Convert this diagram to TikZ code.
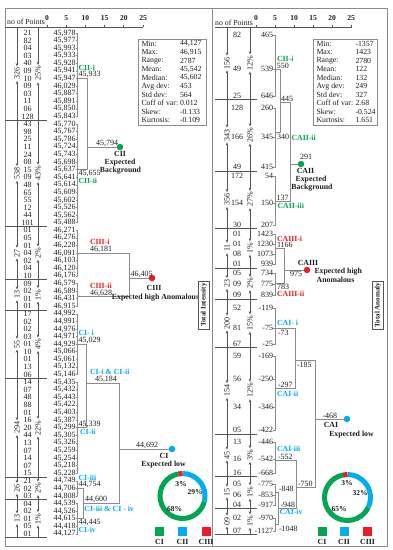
\documentclass[tikz,border=0pt]{standalone}
\usepackage{fontspec}
\setmainfont{Liberation Serif}
\usetikzlibrary{arrows.meta}
\definecolor{cgreen}{RGB}{0,166,81}
\definecolor{cblue}{RGB}{0,174,239}
\definecolor{cred}{RGB}{237,28,36}
\definecolor{lineg}{RGB}{140,140,140}
\definecolor{darkg}{RGB}{85,85,85}
\definecolor{txtc}{RGB}{30,30,30}
\begin{document}
\begin{tikzpicture}[x=1pt,y=-1pt,
  declare function={ry(\i)=33+7.59*\i;},
  every node/.style={inner sep=0pt,outer sep=0pt,text=txtc},
  tf/.style={font=\fontsize{8}{9}\selectfont},
  tfs/.style={font=\fontsize{7.8}{9}\selectfont},
  tfb/.style={font=\fontsize{7.8}{9}\selectfont\bfseries},
  tax/.style={font=\fontsize{7.5}{8}\selectfont\bfseries},
  tval/.style={tf,anchor=east},
  tcnt/.style={tf,anchor=center},
  dline/.style={draw=lineg,line width=0.6pt},
  sline/.style={draw=darkg,line width=0.7pt},
  garr/.style={draw=darkg,line width=0.6pt,-{Stealth[length=3.2pt,width=2.6pt]}},
  rlab/.style={tf,rotate=90,inner sep=1.3pt},
  cdot/.style={circle,inner sep=0pt,minimum size=6.5pt},
  glab/.style={tfb,text=cgreen},
  blab/.style={tfb,text=cblue},
  redlab/.style={tfb,text=cred},
  lsq/.style={minimum size=9pt,inner sep=0pt},
  totbox/.style={draw=darkg,line width=0.5pt,rotate=90,font=\fontsize{7}{8}\selectfont\bfseries,inner sep=2pt,minimum height=11pt},
  pframe/.style={draw=lineg,line width=0.7pt},
  pct/.style={font=\fontsize{7.5}{8}\selectfont\bfseries},
]
\useasboundingbox (0,0) rectangle (392,550);
\fill[white] (0,0) rectangle (392,550);
% panels
\draw[pframe] (5,8) rectangle (212.5,546);
\draw[pframe] (212.5,8) rectangle (387,546);

%================ LEFT PANEL =================
\node[tfs] (hdrL) at (26,22) {no of Points};
\draw[sline] (5,27) -- (143,27);
\foreach \t [count=\k from 0] in {0,5,10,15,20,25}{
  \draw[sline] ({47+19.2*\k},27) -- ({47+19.2*\k},24.5);
  \node[tax] (axL\k) at ({47+19.2*\k},18.5) {\t};
}
\foreach \nn/\va/\vb [count=\i from 0] in {21/45/978,82/45/977,04/45/993,03/45/933,40/45/928,09/45/941,10/45/947,09/46/029,03/45/887,11/45/891,06/45/850,128/45/843,
 43/45/770,98/45/767,25/45/786,11/45/724,24/45/743,08/45/698,15/45/637,09/45/641,48/45/614,65/45/609,55/45/602,12/45/526,44/45/562,101/45/488,
 01/46/271,05/46/276,01/46/228,04/46/091,02/46/103,04/46/120,10/46/176,
 09/46/579,02/46/589,01/46/431,01/46/915,
 17/44/992,02/44/991,02/44/976,03/44/971,01/44/929,10/45/066,01/45/061,13/45/132,06/45/146,
 14/45/435,07/45/432,48/45/443,88/45/422,01/45/403,16/45/387,20/45/299,44/45/305,13/45/326,07/45/259,14/45/254,07/45/218,15/45/228,
 21/44/749,02/44/706,03/44/808,
 04/44/539,02/44/526,01/44/615,05/44/418,01/44/127}{
  \node[tcnt] (cL\i) at (27.5,{ry(\i)}) {\nn};
  \node[tval] (vL\i) at (75.5,{ry(\i)}) {\va,\vb};
  \draw[dline] (vL\i.east) -- ++(2,0);
}
\foreach \gf/\gl/\gn/\gp [count=\k] in {0/11/326/25\%,12/25/538/43\%,26/32/27/2\%,33/36/13/1\%,37/45/55/4\%,46/58/294/22\%,59/61/26/2\%,62/66/13/1\%}{
  \pgfmathsetmacro\yt{ifthenelse(\gf==0,27,ry(\gf-0.5))}
  \pgfmathsetmacro\yb{ry(\gl+0.5)}
  \pgfmathsetmacro\ym{(\yt+\yb)/2}
  \draw[sline] (5,\yb) -- (47,\yb);
  \draw[dline] (77.5,{ry(\gf)}) -- (77.5,{ry(\gl)});
  \node[rlab] (nL\k) at (17,\ym) {\gn};
  \node[rlab] (pL\k) at (38,\ym) {\gp};
  \draw[garr] (17,\yt) -- (nL\k.east);
  \draw[garr] (17,\yb) -- (nL\k.west);
  \draw[garr] (38,\yt) -- (pL\k.east);
  \draw[garr] (38,\yb) -- (pL\k.west);
}
% CII
\draw[dline] (77.5,{ry(6)}) -- (87,{ry(6)}) -- (87,{ry(18)}) -- (77.5,{ry(18)});
\coordinate (jCII) at (87,147);
\node[cdot,fill=cgreen] (CII) at (120,147) {};
\draw[dline] (jCII) -- (CII);
\node[glab,anchor=south west] (tCIIi) at (78.5,{ry(6)-8.2}) {CII-i};
\node[tf,anchor=south west] (vCIIi) at (78.5,{ry(6)-0.4}) {45,933};
\node[tf,anchor=north west] (vCIIii) at (78.5,{ry(18)+0.8}) {45,655};
\node[glab,anchor=north west] (tCIIii) at (78.5,{ry(18)+8.8}) {CII-ii};
\node[tf,anchor=south west] (vCII) at (96,146.4) {45,794};
\node[tfb,anchor=north] (tCII) at (120,151.5) {CII};
\node[tfb,anchor=north] (eCIIa) at (120,159.5) {Expected};
\node[tfb,anchor=north] (eCIIb) at (120.5,167.5) {Background};
% CIII
\draw[dline] (77.5,{ry(29)}) -- (129,{ry(29)}) -- (129,{ry(35)-2}) -- (77.5,{ry(35)-2});
\coordinate (jCIII) at (129,278);
\node[cdot,fill=cred] (CIII) at (152,278) {};
\draw[dline] (jCIII) -- (CIII);
\node[redlab,anchor=south west] (tCIIIi) at (90,{ry(29)-8.2}) {CIII-i};
\node[tf,anchor=south west] (vCIIIi) at (90,{ry(29)-0.4}) {46,181};
\node[redlab,anchor=south west] (tCIIIii) at (90,{ry(35)-10.2}) {CIII-ii};
\node[tf,anchor=south west] (vCIIIii) at (90,{ry(35)-2.4}) {46,628};
\node[tf,anchor=south west] (vCIII) at (130.5,277.4) {46,405};
\node[tfb,anchor=north] (tCIII) at (154,285.5) {CIII};
\node[tfb,anchor=north] (eCIII) at (155.5,294) {Expected high Anomalous};
% CI
\draw[dline] (77.5,{ry(41)}) -- (86,{ry(41)}) -- (86,{ry(52)}) -- (77.5,{ry(52)});
\draw[dline] (77.5,{ry(60)}) -- (83,{ry(60)}) -- (83,{ry(64)}) -- (77.5,{ry(64)});
\draw[dline] (86,383) -- (119,383) -- (119,503) -- (83,503);
\coordinate (jCI) at (119,449);
\node[cdot,fill=cblue] (CI) at (172,449) {};
\draw[dline] (jCI) -- (CI);
\node[blab,anchor=south west] (tCIi) at (78.5,{ry(41)-8.2}) {CI- i};
\node[tf,anchor=south west] (vCIi) at (78.5,{ry(41)-0.4}) {45,029};
\node[blab,anchor=south west] (tCIiii) at (90,374.6) {CI-i \& CI-ii};
\node[tf,anchor=south west] (vCIiii) at (95,382.6) {45,184};
\node[tf,anchor=south west] (vCIii) at (78.5,{ry(52)-0.4}) {45,339};
\node[blab,anchor=north west] (tCIii) at (80,{ry(52)+1.5}) {CI-ii};
\node[blab,anchor=south west] (tCIiiia) at (78.5,{ry(60)-8.2}) {CI-iii};
\node[tf,anchor=south west] (vCIiiia) at (78.5,{ry(60)-0.4}) {44,754};
\node[tf,anchor=north west] (vCIiv) at (78.5,{ry(64)+0.8}) {44,445};
\node[blab,anchor=north west] (tCIiv) at (78.5,{ry(64)+8.6}) {CI-iv};
\node[tf,anchor=south west] (vCIiiiv) at (85,502.4) {44,600};
\node[blab,anchor=north west] (tCIiiiv) at (84.5,506) {CI-iii \& CI - iv};
\node[tf,anchor=south west] (vCI) at (136,448.4) {44,692};
\node[tfb,anchor=north] (tCI) at (164,453) {CI};
\node[tfb,anchor=north] (eCI) at (163.5,461.5) {Expected low};
% stats left
\draw[pframe,line width=0.6pt] (138,39) rectangle (206,125);
\foreach \sa/\sb [count=\k from 0] in {Min:/{44,127},Max:/{46,915},Range:/2787,Mean:/{45,542},Median:/{45,602},Avg dev:/453,Std dev:/564,Coff of var:/0.012,Skew:/-0.133,Kurtosis:/-0.109}{
  \node[tfs,anchor=west] (sLa\k) at (141.5,{44+8.45*\k}) {\sa};
  \node[tfs,anchor=west] (sLb\k) at (180,{44+8.45*\k}) {\sb};
}
\node[totbox] (TI) at (204,305) {Total Intensity};
% donut left
\begin{scope}[shift={(182.5,496)},yscale=-1]
  \draw[cgreen,line width=5pt] (100.8:22.5) arc[start angle=100.8,end angle=345.6,radius=22.5];
  \draw[cblue,line width=5pt] (-14.4:22.5) arc[start angle=-14.4,end angle=90,radius=22.5];
  \draw[cred,line width=5pt] (90:22.5) arc[start angle=90,end angle=100.8,radius=22.5];
\end{scope}
\node[pct] (pLa) at (181,484.5) {3\%};
\node[pct] (pLb) at (195,492) {29\%};
\node[pct] (pLc) at (174.5,509) {68\%};
\node[lsq,fill=cgreen] (qL1) at (159.5,531.5) {};
\node[lsq,fill=cblue] (qL2) at (182.5,531.5) {};
\node[lsq,fill=cred] (qL3) at (206,531.5) {};
\node[tfb] (kL1) at (159.5,541.5) {CI};
\node[tfb] (kL2) at (182.5,541.5) {CII};
\node[tfb] (kL3) at (206,541.5) {CIII};

%================ RIGHT PANEL =================
\node[tfs] (hdrR) at (234,22.5) {no of Points};
\draw[sline] (215,27) -- (352,27);
\foreach \t [count=\k from 0] in {0,5,10,15,20,25}{
  \draw[sline] ({256+19*\k},27) -- ({256+19*\k},24.5);
  \node[tax] (axR\k) at ({256+19*\k},18.5) {\t};
}
\foreach \nn/\vv/\yy [count=\i] in {82/465/35,49/539/69,25/646/96,128/260/108,166/345/137,49/415/167,172/54/176,154/150/203,30/207/225,01/1423/234,01/1230/244,08/1073/254,01/939/264,05/734/273,09/775/284,09/839/295,52/-119/308,81/-75/328,67/-25/344,59/-169/356,56/-250/379,34/-346/407,05/-422/430,13/-446/442,16/-542/459,16/-668/473,05/-775/484,06/-853/495,04/-917/505,02/-970/518,07/-1127/531}{
  \node[tcnt] (cR\i) at (237,\yy) {\nn};
  \node[tval] (vR\i) at (273,\yy) {\vv};
  \draw[dline] (vR\i.east) -- ++(2.5,0);
}
\foreach \yt/\yb/\ya/\yz/\gn/\gp [count=\k] in {27/99/35/96/156/12\%,99/171/108/167/343/26\%,171/228/176/225/356/27\%,228/268/234/264/11/1\%,268/299/273/295/23/2\%,299/347/308/344/200/15\%,347/434/356/430/154/12\%,434/476/442/473/45/3\%,476/508/484/505/15/1\%,508/534/518/531/09/1\%}{
  \pgfmathsetmacro\ym{(\yt+\yb)/2}
  \draw[sline] (215,\yb) -- (257,\yb);
  \draw[dline] (275.5,\ya) -- (275.5,\yz);
  \node[rlab] (nR\k) at (227,\ym) {\gn};
  \node[rlab] (pR\k) at (250,\ym) {\gp};
  \draw[garr] (227,\yt) -- (nR\k.east);
  \draw[garr] (227,\yb) -- (nR\k.west);
  \draw[garr] (250,\yt) -- (pR\k.east);
  \draw[garr] (250,\yb) -- (pR\k.west);
}
% CAII
\draw[dline] (275.5,69) -- (280,69) -- (280,132) -- (275.5,132);
\draw[dline] (280,102) -- (290,102) -- (290,201) -- (275.5,201);
\coordinate (jCAII) at (290,164);
\node[cdot,fill=cgreen] (CAII) at (301,164) {};
\draw[dline] (jCAII) -- (CAII);
\node[glab,anchor=south west] (tRCIIi) at (277,61.5) {CII-i};
\node[tf,anchor=south west] (vR550) at (276.8,68.6) {550};
\node[tf,anchor=south west] (vR445) at (281,101.4) {445};
\node[tf,anchor=north west] (vR340) at (277,134) {340};
\node[glab,anchor=west] (tCAIIii) at (291.5,138) {CAII-ii};
\node[tf,anchor=south west] (vR291) at (300,160) {291};
\node[tf,anchor=south west] (vR137) at (276.5,200.4) {137};
\node[glab,anchor=north west] (tCAIIiii) at (277.5,203.5) {CAII-iii};
\node[tfb,anchor=north] (tCAII) at (305.5,168.5) {CAII};
\node[tfb,anchor=north] (eCAIIa) at (311,176) {Expected};
\node[tfb,anchor=north] (eCAIIb) at (312,184.5) {Background};
% CAIII
\draw[dline] (275.5,248.5) -- (284,248.5) -- (284,283.5) -- (275.5,283.5);
\coordinate (jCAIII) at (284,270);
\node[cdot,fill=cred] (CAIII) at (307,270) {};
\draw[dline] (jCAIII) -- (CAIII);
\node[redlab,anchor=south west] (tCAIIIi) at (277,241.5) {CAIII-i};
\node[tf,anchor=south west] (vR1166) at (277,248) {1166};
\node[tf,anchor=north west] (vR783) at (277,284.5) {783};
\node[redlab,anchor=north west] (tCAIIIii) at (277,291.5) {CAIII-ii};
\node[tf,anchor=north west] (vR975) at (290,271.5) {975};
\node[tfb,anchor=south] (tCAIII) at (308,265.5) {CAIII};
\node[tfb,anchor=west] (eCAIIIa) at (314.5,272) {Expected high};
\node[tfb] (eCAIIIb) at (335.5,280) {Anomalous};
% CAI
\draw[dline] (275.5,328.5) -- (295,328.5) -- (295,388.5) -- (275.5,388.5);
\draw[dline] (295,360) -- (315,360) -- (315,487) -- (296,487);
\draw[dline] (275.5,460) -- (296,460) -- (296,508) -- (278,508);
\draw[dline] (275.5,492.5) -- (278,492.5) -- (278,524.5) -- (275.5,524.5);
\coordinate (jCAI) at (315,419);
\node[cdot,fill=cblue] (CAI) at (347,419) {};
\draw[dline] (jCAI) -- (CAI);
\node[blab,anchor=south west] (tCAIi) at (277,326) {CAI- i};
\node[tf,anchor=north west] (vR73) at (278,330) {-73};
\node[tf,anchor=south west] (vR297) at (278,388) {-297};
\node[blab,anchor=north west] (tCAIii) at (277,391) {CAI-ii};
\node[tf,anchor=north west] (vR185) at (297,362.5) {-185};
\node[blab,anchor=south west] (tCAIiii) at (277,451.5) {CAI-iii};
\node[tf,anchor=south west] (vR552) at (278,459.6) {-552};
\node[tf,anchor=south west] (vR848) at (279,492) {-848};
\node[tf,anchor=south west] (vR948) at (280.5,507.6) {-948};
\node[blab,anchor=north west] (tCAIiv) at (279.5,509.5) {CAI-iv};
\node[tf,anchor=north west] (vR1048) at (279,526) {-1048};
\node[tf,anchor=south west] (vR750) at (298,486.6) {-750};
\node[tf,anchor=south west] (vR468) at (322.5,418.4) {-468};
\node[tfb,anchor=north] (tCAI) at (331,422.5) {CAI};
\node[tfb,anchor=north] (eCAI) at (351.5,431) {Expected low};
% stats right
\draw[pframe,line width=0.6pt] (313,39) rectangle (377,125);
\foreach \sa/\sb [count=\k from 0] in {Min:/-1357,Max:/1423,Range:/2780,Mean:/122,Median:/132,Avg dev:/249,Std dev:/327,Coff of var:/2.68,Skew:/-0.524,Kurtosis:/1.651}{
  \node[tfs,anchor=west] (sRa\k) at (316.5,{44+8.45*\k}) {\sa};
  \node[tfs,anchor=west] (sRb\k) at (355.5,{44+8.45*\k}) {\sb};
}
\node[totbox] (TA) at (378,305) {Total Anomaly};
% donut right
\begin{scope}[shift={(347.5,497.5)},yscale=-1]
  \draw[cgreen,line width=5pt] (100.8:23) arc[start angle=100.8,end angle=334.8,radius=23];
  \draw[cblue,line width=5pt] (-25.2:23) arc[start angle=-25.2,end angle=90,radius=23];
  \draw[cred,line width=5pt] (90:23) arc[start angle=90,end angle=100.8,radius=23];
\end{scope}
\node[pct] (pRa) at (347,483.5) {3\%};
\node[pct] (pRb) at (360,493) {32\%};
\node[pct] (pRc) at (339,509) {65\%};
\node[lsq,fill=cgreen] (qR1) at (322,531.5) {};
\node[lsq,fill=cblue] (qR2) at (344,531.5) {};
\node[lsq,fill=cred] (qR3) at (367.5,531.5) {};
\node[tfb] (kR1) at (322,541.5) {CI};
\node[tfb] (kR2) at (344,541.5) {CII};
\node[tfb] (kR3) at (367.5,541.5) {CIII};
\end{tikzpicture}
\end{document}
